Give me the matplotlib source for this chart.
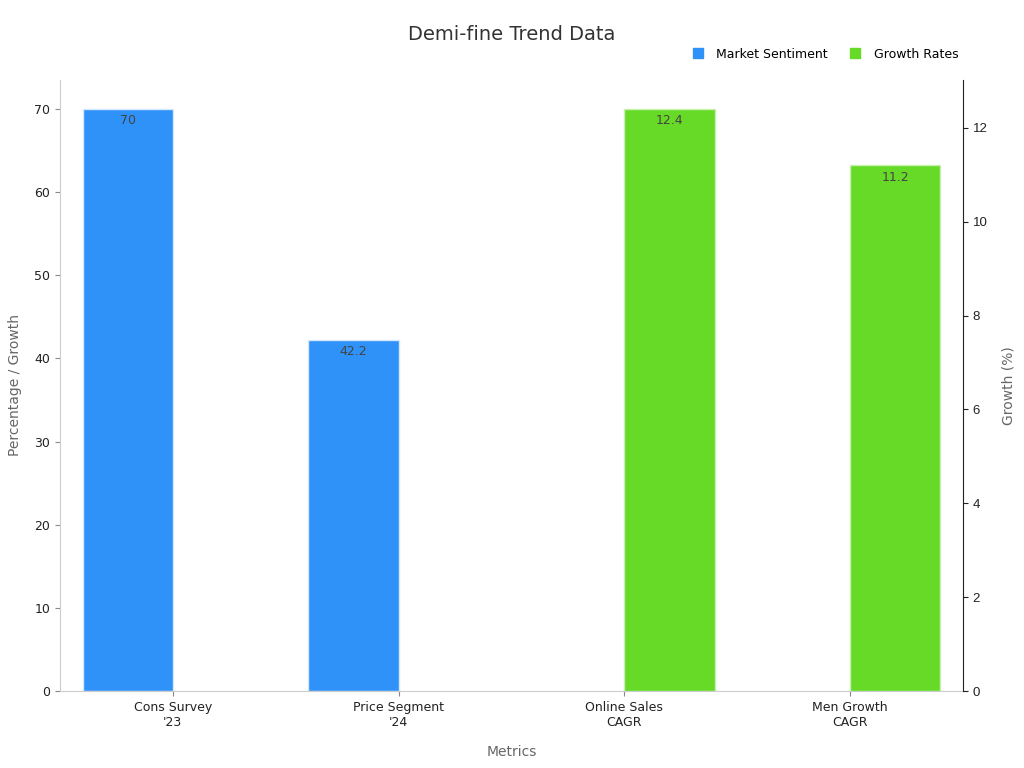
import matplotlib
matplotlib.use('Agg')
import matplotlib.pyplot as plt
import numpy as np

# data
categories = ["Cons Survey\n'23", "Price Segment\n'24", "Online Sales\nCAGR", "Men Growth\nCAGR"]
sentiment_vals = [70, 42.2, 0, 0]
growth_vals = [0, 0, 12.4, 11.2]

BLUE = '#2F92F9'
GREEN = '#66DA26'
GREY = '#cccccc'

plt.rcParams['font.family'] = ['DejaVu Sans']

fig = plt.figure(figsize=(10.24, 7.68), dpi=100)
ax = fig.add_axes([60 / 1024, 1 - 691 / 768, (963 - 60) / 1024, (691 - 80) / 768])
ax2 = ax.twinx()

x = np.arange(len(categories))
w = 0.4

b1 = ax.bar(x - w / 2, sentiment_vals, w, color=BLUE, edgecolor='#d6e8fd', linewidth=1, label='Market Sentiment')
b2 = ax2.bar(x + w / 2, growth_vals, w, color=GREEN, edgecolor='#c8f0b0', linewidth=1, label='Growth Rates')
# empty bars should not show an outline
for p in list(b1) + list(b2):
    if p.get_height() == 0:
        p.set_linewidth(0)

# value labels inside the top of the bars
for xi, v in zip(x, sentiment_vals):
    if v:
        ax.text(xi - w / 2, v - 0.6, f'{v:g}', ha='center', va='top', fontsize=9, color='#444444')
for xi, v in zip(x, growth_vals):
    if v:
        ax2.text(xi + w / 2, v - 0.11, f'{v:g}', ha='center', va='top', fontsize=9, color='#444444')

ax.set_xlim(-0.5, 3.5)
ax.set_ylim(0, max(sentiment_vals) * 1.05)
ax2.set_ylim(0, max(growth_vals) * 1.05)

ax.set_xticks(x)
ax.set_xticklabels(categories, fontsize=9, color='#222222')
ax.set_yticks(range(0, 71, 10))
ax.tick_params(axis='y', labelsize=9, colors='#222222', color='#888888')
ax.tick_params(axis='x', color='#888888')
ax2.set_yticks(range(0, 13, 2))
ax2.tick_params(axis='y', labelsize=9.5, colors='#222222')
for lab in ax2.get_yticklabels():
    lab.set_fontfamily('Liberation Sans')

for s in ['top', 'right']:
    ax.spines[s].set_visible(False)
ax.spines['left'].set_color(GREY)
ax.spines['bottom'].set_color(GREY)
ax2.spines['top'].set_visible(False)
ax2.spines['left'].set_visible(False)
ax2.spines['bottom'].set_visible(False)
ax2.spines['right'].set_color('#222222')

ax.set_xlabel('Metrics', fontsize=10, color='#666666', labelpad=12)
ax.set_ylabel('Percentage / Growth', fontsize=10, color='#666666', labelpad=9)
ax2.set_ylabel('Growth (%)', fontsize=10, color='#666666', labelpad=10)

fig.suptitle('Demi-fine Trend Data', fontsize=14, color='#333333', y=1 - 34 / 768, va='center')

handles = [plt.Line2D([], [], marker='s', linestyle='', markersize=7.5, color=BLUE),
           plt.Line2D([], [], marker='s', linestyle='', markersize=7.5, color=GREEN)]
fig.legend(handles, ['Market Sentiment', 'Growth Rates'], loc='center right',
           bbox_to_anchor=(970 / 1024, 1 - 54 / 768), ncol=2, frameon=False,
           fontsize=9, handletextpad=0.5, columnspacing=1.2)

plt.savefig('out.png', dpi=100)
